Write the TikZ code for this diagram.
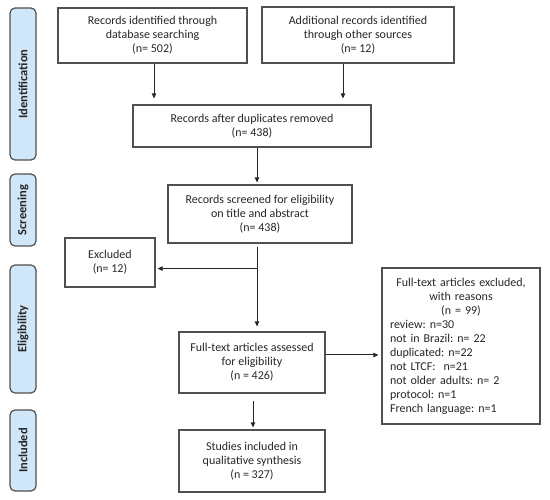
\documentclass[tikz,border=0pt]{standalone}
\usepackage{fontspec}
\setmainfont{Carlito}
\frenchspacing
\usetikzlibrary{arrows.meta,calc}
\definecolor{boxline}{HTML}{505050}
\definecolor{txt}{HTML}{262626}
\definecolor{sidefill}{HTML}{CFE7F8}
\tikzset{
  flowbox/.style={draw=boxline, line width=1.2pt, align=center, text=txt, inner sep=2pt,
    font=\fontsize{12}{14}\selectfont},
  sidebox/.style={draw=boxline, line width=1.2pt, fill=sidefill, rounded corners=5pt, rotate=90,
    text=txt, font=\fontsize{12.5}{14}\selectfont\bfseries, inner sep=0pt, minimum height=26pt},
  arr/.style={draw=txt, line width=1pt, -{Triangle[length=5pt,width=4.5pt]}},
  ln/.style={draw=txt, line width=1pt}
}
\begin{document}
\begin{tikzpicture}[x=1pt,y=-1pt]
\useasboundingbox (0,0) rectangle (550,500);
% side labels
\node[sidebox, minimum width=152pt] (sid) at (23,84) {Identification};
\node[sidebox, minimum width=72pt] (ssc) at (23,210) {Screening};
\node[sidebox, minimum width=128pt] (sel) at (23,329) {Eligibility};
\node[sidebox, minimum width=81pt] (sin) at (23,450.5) {Included};
% boxes
\node[flowbox, minimum width=189pt, minimum height=55pt] (b1) at (152.5,35.5) {Records identified through\\database searching\\(n= 502)};
\node[flowbox, minimum width=192pt, minimum height=56pt] (b2) at (358,35) {Additional records identified\\through other sources\\(n= 12)};
\node[flowbox, minimum width=238pt, minimum height=42pt] (b3) at (252,126) {Records after duplicates removed\\(n= 438)};
\node[flowbox, minimum width=184pt, minimum height=58pt] (b4) at (260,214) {Records screened for eligibility\\on title and abstract\\(n= 438)};
\node[flowbox, minimum width=90pt, minimum height=49pt] (ex1) at (110,262.5) {Excluded\\(n= 12)};
\node[flowbox, minimum width=146pt, minimum height=61pt] (b5) at (252,362.5) {Full-text articles assessed\\for eligibility\\(n = 426)};
\node[flowbox, minimum width=146pt, minimum height=62pt] (b6) at (252,461) {Studies included in\\qualitative synthesis\\(n = 327)};
\node[flowbox, minimum width=158pt, minimum height=156pt, text width=142pt, align=left, inner sep=0pt] (ex2) at (461,346)
 {{\centering Full-text articles excluded,\\with reasons\\(n = 99)\par}%
 review: n=30\\not in Brazil: n= 22\\duplicated: n=22\\not LTCF:\ \ n=21\\not older adults: n= 2\\protocol: n=1\\French language: n=1};
% connectors
\draw[arr, shorten >=6pt] ([xshift=1.5pt]b1.south) -- ([xshift=1.5pt]b1.south |- b3.north);
\draw[arr, shorten >=6pt] ([xshift=-15pt]b2.south) -- ([xshift=-15pt]b2.south |- b3.north);
\draw[arr, shorten >=2pt] ([xshift=5pt]b3.south) -- ([xshift=5pt]b3.south |- b4.north);
\coordinate (br) at ($([xshift=-3pt]b4.south)+(0,25)$);
\draw[arr, shorten <=3pt, shorten >=5pt] ([xshift=-3pt]b4.south) -- ([xshift=-3pt]b4.south |- b5.north);
\draw[arr, shorten >=2pt] (br) -- (br -| ex1.east);
\draw[arr, shorten >=3pt] (b5.east |- 0,355) -- (ex2.west |- 0,355);
\draw[arr, shorten <=7pt, shorten >=2pt] ([xshift=1pt]b5.south) -- ([xshift=1pt]b5.south |- b6.north);
\end{tikzpicture}
\end{document}
